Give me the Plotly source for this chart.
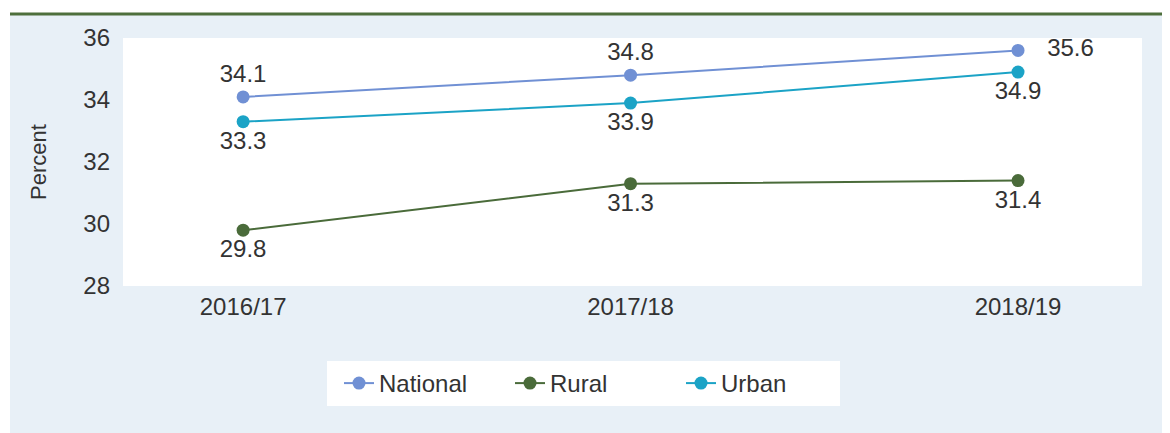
import plotly.graph_objects as go

years = ["2016/17", "2017/18", "2018/19"]
national = [34.1, 34.8, 35.6]
rural = [29.8, 31.3, 31.4]
urban = [33.3, 33.9, 34.9]
y_ticks = [28, 30, 32, 34, 36]

# page is rendered with an 8px body margin; figure is sized to fill the window
OFF = 8
PAGE_W, PAGE_H = 1170, 433
W, H = PAGE_W - OFF, PAGE_H - OFF
# plot-area edges in page pixels
PL, PR, PT, PB = 123, 1142, 38, 286
L, T = PL - OFF, PT - OFF
R, B = PAGE_W - PR, PAGE_H - PB
PW, PH = PR - PL, PB - PT

def px_x(p):
    return (p - PL) / PW

def px_y(p):
    return (PB - p) / PH

FONT = "Liberation Sans, Arial, sans-serif"
TXT = "#333333"
C_NAT = "#7090d4"
C_RUR = "#4a6b3a"
C_URB = "#1ba3c6"
PANEL = "#e8f0f7"

fig = go.Figure()
fig.add_trace(go.Scatter(
    x=years, y=national, name="National", mode="lines+markers+text",
    line=dict(color=C_NAT, width=2), marker=dict(color=C_NAT, size=13),
    text=[f"{v:.1f}" for v in national[:2]] + [f"   {national[2]:.1f}"],
    textposition=["top center", "top center", "middle right"],
    textfont=dict(size=24, color=TXT, family=FONT), cliponaxis=False,
))
fig.add_trace(go.Scatter(
    x=years, y=rural, name="Rural", mode="lines+markers+text",
    line=dict(color=C_RUR, width=2), marker=dict(color=C_RUR, size=13),
    text=[f"{v:.1f}" for v in rural], textposition="bottom center",
    textfont=dict(size=24, color=TXT, family=FONT), cliponaxis=False,
))
fig.add_trace(go.Scatter(
    x=years, y=urban, name="Urban", mode="lines+markers+text",
    line=dict(color=C_URB, width=2), marker=dict(color=C_URB, size=13),
    text=[f"{v:.1f}" for v in urban], textposition="bottom center",
    textfont=dict(size=24, color=TXT, family=FONT), cliponaxis=False,
))

shapes = [
    # white strip above the panel
    dict(type="rect", xref="paper", yref="paper", x0=px_x(OFF), x1=px_x(PAGE_W),
         y0=px_y(13), y1=px_y(OFF), fillcolor="white", line=dict(width=0), layer="above"),
    # white strip left of the panel
    dict(type="rect", xref="paper", yref="paper", x0=px_x(OFF), x1=px_x(10),
         y0=px_y(PAGE_H), y1=px_y(OFF), fillcolor="white", line=dict(width=0), layer="above"),
    # green rule on top
    dict(type="line", xref="paper", yref="paper", x0=px_x(10), x1=px_x(PAGE_W),
         y0=px_y(14), y1=px_y(14), line=dict(color="#4e6f3c", width=3), layer="above"),
]

fig.update_layout(
    width=W, height=H,
    margin=dict(l=L, r=R, t=T, b=B, pad=0),
    paper_bgcolor=PANEL, plot_bgcolor="white",
    font=dict(family=FONT, size=24, color=TXT),
    shapes=shapes,
    showlegend=True,
    legend=dict(orientation="h", x=px_x(327), y=px_y(361), xanchor="left", yanchor="top",
                bgcolor="white", font=dict(size=24, color=TXT, family=FONT),
                entrywidth=114, indentation=12, itemclick=False),
    hovermode=False,
)
fig.update_xaxes(range=[-0.31, 2.32], showgrid=False, showline=False, zeroline=False,
                 tickfont=dict(size=24, color=TXT), ticks="", ticklabelstandoff=4)
fig.update_yaxes(range=[28, 36], tickvals=y_ticks, showgrid=False, showline=False, zeroline=False,
                 tickfont=dict(size=24, color=TXT), ticks="", ticklabelstandoff=12,
                 title=dict(text="Percent", font=dict(size=22, color=TXT), standoff=30))

fig.write_html("out.html")
